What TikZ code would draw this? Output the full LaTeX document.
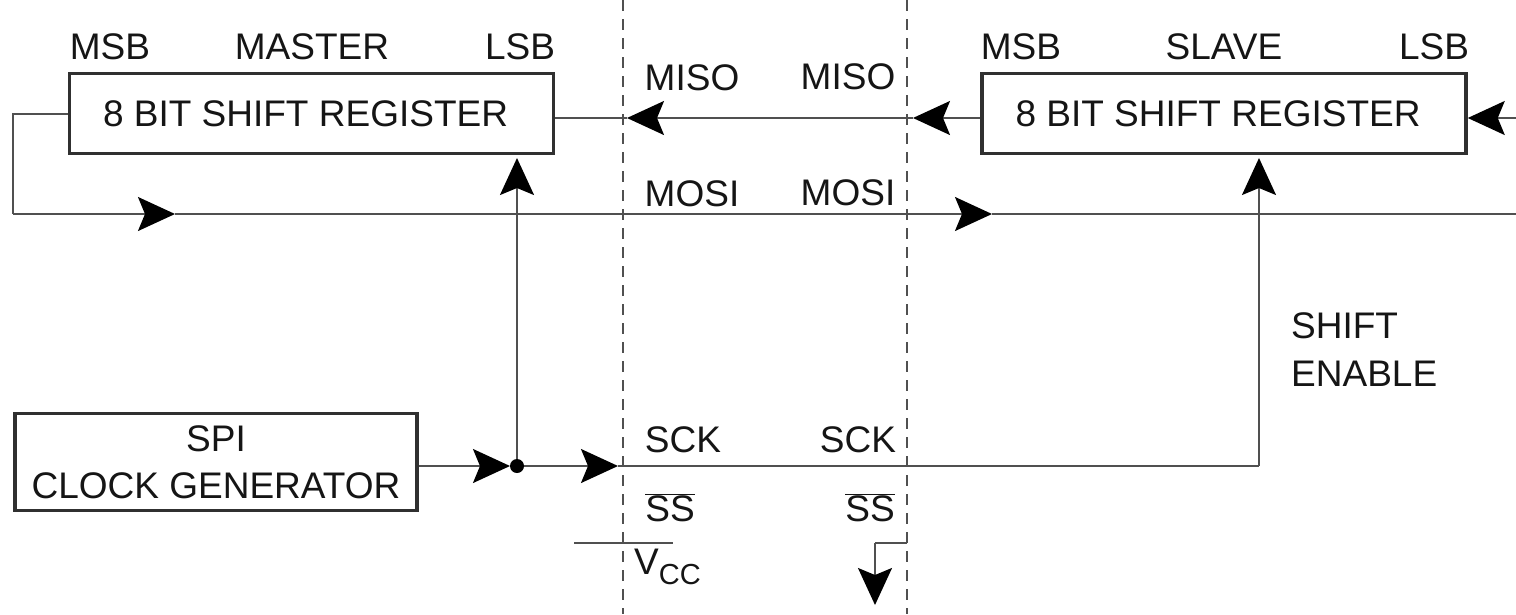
\documentclass[tikz,border=0pt]{standalone}
\usepackage{fontspec}
\setmainfont{Liberation Sans}
\usetikzlibrary{arrows.meta}
\definecolor{lncol}{HTML}{505050}
\definecolor{boxcol}{HTML}{303030}
\definecolor{txtcol}{HTML}{151515}
\begin{document}
\begin{tikzpicture}[x=1pt,y=-1pt,
  lbl/.style={inner sep=0pt,text=txtcol,font=\fontsize{37}{48}\selectfont},
  regbox/.style={draw=boxcol,line width=3.5pt,minimum width=484pt,minimum height=80pt,inner sep=0pt,text=txtcol,font=\fontsize{37}{47}\selectfont},
  ln/.style={draw=lncol,line width=2pt},
  arr/.style={ln,-{Stealth[length=37pt,width=34pt,inset=7pt,fill=black,color=black]}},
  divider/.style={draw=lncol,line width=2.4pt,dash pattern=on 11pt off 8pt}]
\useasboundingbox (0,0) rectangle (1516,614);
\fill[white] (0,0) rectangle (1516,614);
% dividers
\draw[divider] (623,0) -- (623,614);
\draw[divider] (907,0) -- (907,614);
% boxes
\node[regbox] (master) at (311.5,113.5) {8 BIT SHIFT REGISTER\hspace*{12pt}};
\node[regbox] (slave) at (1224,113.5) {8 BIT SHIFT REGISTER\hspace*{12pt}};
\node[regbox,minimum width=402pt,minimum height=97pt,align=center] (clk) at (216,462) {SPI\\CLOCK GENERATOR};
% labels
\node[lbl] (mmsb) at (110,47) {MSB};
\node[lbl] (mname) at (312,47) {MASTER};
\node[lbl] (mlsb) at (520,47) {LSB};
\node[lbl] (smsb) at (1021,47) {MSB};
\node[lbl] (sname) at (1224,47) {SLAVE};
\node[lbl] (slsb) at (1434,47) {LSB};
\node[lbl] (miso1) at (692,78) {MISO};
\node[lbl] (miso2) at (848,77) {MISO};
\node[lbl] (mosi1) at (692,194) {MOSI};
\node[lbl] (mosi2) at (848,193) {MOSI};
\node[lbl] (sck1) at (683,440) {SCK};
\node[lbl] (sck2) at (858,440) {SCK};
\node[lbl] (ss1) at (670,508) {$\overline{\hbox{SS}}$};
\node[lbl] (ss2) at (870,508) {$\overline{\hbox{SS}}$};
\node[lbl,anchor=west] (vcc) at (634,567) {V\raisebox{-10pt}{\fontsize{29}{30}\selectfont CC}};
\node[lbl,anchor=north west,align=left] (shen) at (1291,312) {SHIFT\\ENABLE};
% coordinates
\coordinate (misoT1) at (627,118);
\coordinate (misoT2) at (913,118);
\coordinate (rin) at (1516,118);
\coordinate (fb1) at (13,113.5);
\coordinate (fb2) at (13,214);
\coordinate (mosiT1) at (175,214);
\coordinate (mosiT2) at (992,214);
\coordinate (mosiEnd) at (1516,214);
\coordinate (sckT1) at (510,466);
\coordinate (junc) at (517,466);
\coordinate (sckT2) at (618,466);
\coordinate (sckBend) at (1259,466);
\coordinate (mUp) at (517,158);
\coordinate (sUp) at (1259,158);
\coordinate (vccL) at (574,543);
\coordinate (vccR) at (673,543);
\coordinate (ssA) at (907,543);
\coordinate (ssB) at (875,543);
\coordinate (ssT) at (875,605);
% MISO
\draw[arr] (slave.west |- misoT2) -- (misoT2);
\draw[arr] (misoT2) -- (misoT1);
\draw[ln] (misoT1) -- (master.east |- misoT1);
\draw[arr] (rin) -- (slave.east |- rin);
% MOSI feedback
\draw[ln] (master.west) -- (fb1) -- (fb2);
\draw[arr] (fb2) -- (mosiT1);
\draw[arr] (mosiT1) -- (mosiT2);
\draw[ln] (mosiT2) -- (mosiEnd);
% SCK
\draw[arr] (clk.east |- sckT1) -- (sckT1);
\draw[ln] (sckT1) -- (junc);
\draw[arr] (junc) -- (sckT2);
\draw[ln] (sckT2) -- (sckBend);
\draw[arr] (sckBend) -- (sUp);
\draw[arr] (junc) -- (mUp);
\fill[black] (junc) circle (7pt);
% SS
\draw[ln] (vccL) -- (vccR);
\draw[ln] (ssA) -- (ssB);
\draw[arr] (ssB) -- (ssT);
\end{tikzpicture}
\end{document}
